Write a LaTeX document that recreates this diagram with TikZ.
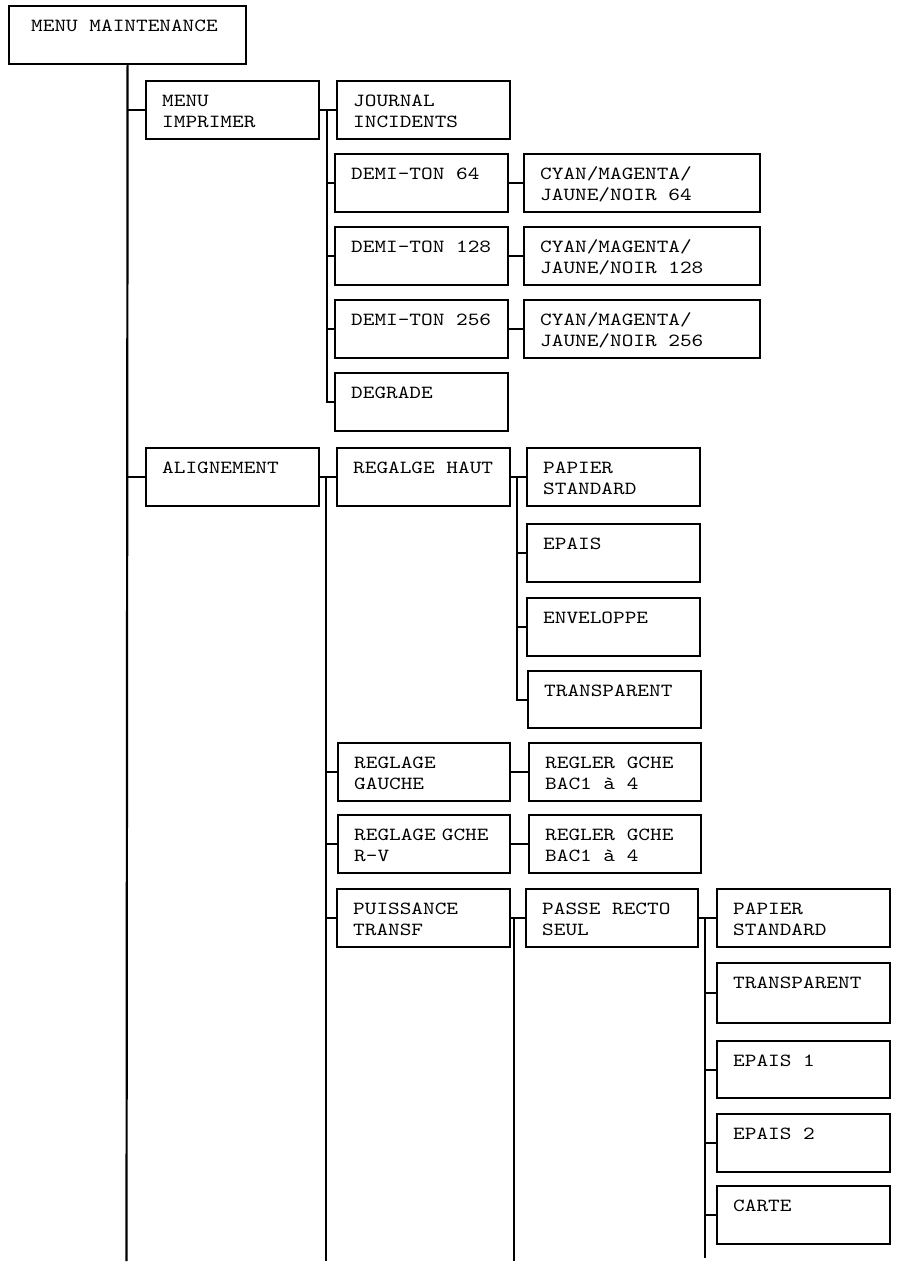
\documentclass[tikz,border=0pt]{standalone}
\usepackage{fontspec}
\setmonofont{lmmono10-regular.otf}[FakeStretch=1.2]
\newcommand\gp{\hspace*{0.63em}}
\tikzset{
  box/.style={draw, line width=2.2pt, rectangle, inner sep=0pt, anchor=north west},
  lbl/.style={anchor=base west, inner sep=0pt, font=\ttfamily\fontsize{18.5}{21.5}\selectfont, text width=220pt, align=left},
  conn/.style={line width=2.2pt}
}
\newcommand\mybox[6]{%
  \node[box, minimum width={(#4-#2)*1pt}, minimum height={(#5-#3)*1pt}] (#1) at (#2,#3) {};
  \node[lbl] (#1t) at ([xshift=17pt,yshift=-26pt]#1.north west) {#6};}
\begin{document}
\begin{tikzpicture}[x=1pt,y=-1pt]
\useasboundingbox[fill=white] (0,0) rectangle (901,1264);
% root
\node[box, minimum width=237pt, minimum height=58pt] (root) at (8,5) {};
\node[lbl] (roott) at ([xshift=23pt,yshift=-26pt]root.north west) {MENU\gp MAINTENANCE};
% level 1
\mybox{mi}{145}{80}{318}{138}{MENU\\IMPRIMER}
\mybox{al}{145}{447}{318}{505}{ALIGNEMENT}
% group A
\mybox{ji}{336}{80}{509}{138}{JOURNAL\\INCIDENTS}
\mybox{d64}{334}{153}{507}{211}{DEMI-TON\gp 64}
\mybox{d128}{334}{226}{507}{284}{DEMI-TON\gp 128}
\mybox{d256}{334}{299}{507}{357}{DEMI-TON\gp 256}
\mybox{deg}{334}{372}{507}{430}{DEGRADE}
\mybox{c64}{523}{153}{759}{211}{CYAN/MAGENTA/\\JAUNE/NOIR\gp 64}
\mybox{c128}{523}{226}{759}{284}{CYAN/MAGENTA/\\JAUNE/NOIR\gp 128}
\mybox{c256}{523}{299}{759}{357}{CYAN/MAGENTA/\\JAUNE/NOIR\gp 256}
% group B
\mybox{rh}{336}{447}{509}{505}{REGALGE\gp HAUT}
\mybox{psa}{526}{447}{699}{505}{PAPIER\\STANDARD}
\mybox{ep}{526}{523}{699}{581}{EPAIS}
\mybox{env}{526}{597}{699}{655}{ENVELOPPE}
\mybox{tra}{527}{670}{700}{727}{TRANSPARENT}
\mybox{rg}{337}{742}{509}{800}{REGLAGE\\GAUCHE}
\mybox{rba}{528}{742}{700}{800}{REGLER\gp GCHE\\BAC1\gp à\gp 4}
\mybox{rgr}{337}{814}{509}{872}{REGLAGE GCHE\\R-V}
\mybox{rbb}{528}{814}{700}{872}{REGLER\gp GCHE\\BAC1\gp à\gp 4}
\mybox{pt}{336}{888}{509}{946}{PUISSANCE\\TRANSF}
\mybox{prs}{525}{888}{697}{946}{PASSE\gp RECTO\\SEUL}
\mybox{psb}{716}{888}{889}{946}{PAPIER\\STANDARD}
\mybox{trb}{716}{962}{889}{1022}{TRANSPARENT}
\mybox{ea}{716}{1040}{889}{1097}{EPAIS\gp 1}
\mybox{eb}{716}{1113}{889}{1171}{EPAIS\gp 2}
\mybox{car}{716}{1185}{889}{1243}{CARTE}
% coordinates for vertical trunks
\coordinate (e0) at (126.5,1261);
\coordinate (va) at (327,0);
\coordinate (vb) at (326,1261);
\coordinate (vc) at (517,0);
\coordinate (vd) at (514,1261);
\coordinate (ve) at (705,1258);
% main trunk
\draw[conn] (root.south) -- (e0);
\draw[conn] (root.south |- mi.west) -- (mi.west);
\draw[conn] (root.south |- al.west) -- (al.west);
% group A
\draw[conn] (mi.east) -- (ji.west);
\draw[conn] (va |- mi.east) -- (va |- deg.west) -- (deg.west);
\draw[conn] (va |- d64.west) -- (d64.west);
\draw[conn] (va |- d128.west) -- (d128.west);
\draw[conn] (va |- d256.west) -- (d256.west);
\draw[conn] (d64.east) -- (c64.west);
\draw[conn] (d128.east) -- (c128.west);
\draw[conn] (d256.east) -- (c256.west);
% group B
\draw[conn] (al.east) -- (rh.west);
\draw[conn] (vb |- al.east) -- (vb);
\draw[conn] (vb |- rg.west) -- (rg.west);
\draw[conn] (vb |- rgr.west) -- (rgr.west);
\draw[conn] (vb |- pt.west) -- (pt.west);
\draw[conn] (rh.east) -- (psa.west);
\draw[conn] (vc |- rh.east) -- (vc |- tra.west) -- (tra.west);
\draw[conn] (vc |- ep.west) -- (ep.west);
\draw[conn] (vc |- env.west) -- (env.west);
\draw[conn] (rg.east) -- (rba.west);
\draw[conn] (rgr.east) -- (rbb.west);
\draw[conn] (pt.east) -- (prs.west);
\draw[conn] (vd |- pt.east) -- (vd);
\draw[conn] (prs.east) -- (psb.west);
\draw[conn] (ve |- prs.east) -- (ve);
\draw[conn] (ve |- trb.west) -- (trb.west);
\draw[conn] (ve |- ea.west) -- (ea.west);
\draw[conn] (ve |- eb.west) -- (eb.west);
\draw[conn] (ve |- car.west) -- (car.west);
\end{tikzpicture}
\end{document}
